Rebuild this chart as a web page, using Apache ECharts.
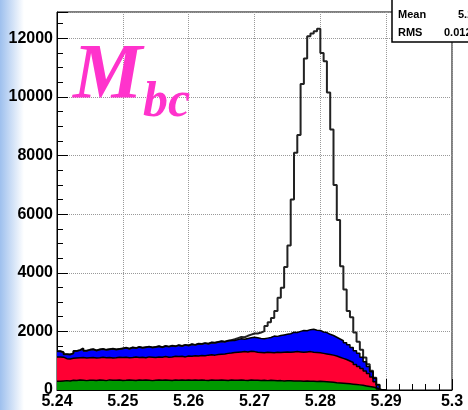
<!DOCTYPE html>
<html>
<head>
<meta charset="utf-8">
<script src="https://cdn.jsdelivr.net/npm/echarts@6/dist/echarts.min.js"></script>
<style>
  html, body { margin: 0; padding: 0; background: #fff; }
  #chart { width: 468px; height: 410px; }
</style>
</head>
<body>
<div id="chart"></div>
<script>
// histogram binning (Mbc in GeV)
const binStart = 5.24;
const binWidth = 0.0005;

// stacked MC components, one value per bin (bottom -> top)
const greenBkg = [
  300, 310, 320, 305, 330, 325, 340, 335, 320, 330,
  335, 325, 340, 330, 320, 345, 335, 330, 340, 325,
  330, 340, 335, 325, 345, 330, 340, 335, 320, 335,
  340, 330, 345, 335, 325, 340, 330, 345, 335, 340,
  330, 345, 335, 340, 330, 325, 340, 335, 330, 345,
  335, 325, 340, 330, 335, 345, 330, 325, 340, 335,
  330, 325, 335, 320, 330, 325, 315, 320, 310, 315,
  315, 310, 305, 310, 300, 305, 295, 300, 290, 295,
  290, 285, 275, 265, 250, 240, 230, 220, 210, 200,
  190, 175, 160, 140, 120, 100, 75, 30, 0, 0
];
const redBkg = [
  830, 810, 750, 755, 750, 765, 760, 775, 770, 770,
  775, 765, 760, 790, 780, 765, 755, 770, 780, 785,
  790, 760, 775, 805, 765, 790, 760, 795, 800, 775,
  790, 790, 795, 785, 805, 810, 810, 805, 795, 820,
  820, 825, 825, 840, 840, 865, 860, 855, 880, 875,
  895, 925, 920, 950, 955, 955, 980, 975, 980, 975,
  960, 955, 935, 970, 950, 945, 975, 960, 980, 985,
  975, 990, 1005, 990, 990, 995, 1015, 990, 990, 975,
  960, 945, 935, 925, 910, 880, 850, 820, 780, 740,
  680, 625, 570, 510, 440, 340, 205, 0, 0, 0
];
const blueBkg = [
  190, 170, 150, 150, 170, 240, 260, 310, 250, 270,
  280, 260, 280, 280, 270, 280, 320, 280, 280, 310,
  320, 310, 340, 300, 360, 320, 360, 350, 330, 360,
  360, 340, 360, 360, 380, 340, 390, 350, 410, 360,
  410, 370, 420, 390, 430, 390, 420, 420, 430, 440,
  420, 430, 440, 410, 430, 450, 420, 460, 460, 490,
  490, 480, 480, 480, 510, 570, 540, 580, 590, 600,
  630, 670, 650, 700, 740, 720, 750, 780, 760, 760,
  730, 730, 690, 670, 640, 620, 600, 570, 550, 510,
  470, 450, 390, 310, 240, 180, 120, 150, 0, 0
];
// signal on top of the stack (open histogram)
const signal = [
  0, 0, 0, 0, 0, 0, 0, 0, 0, 0,
  0, 0, 0, 0, 0, 0, 0, 0, 0, 0,
  0, 0, 0, 0, 0, 0, 0, 0, 0, 0,
  0, 0, 0, 0, 0, 0, 0, 0, 0, 0,
  0, 0, 0, 0, 0, 0, 0, 0, 0, 0,
  0, 0, 0, 40, 50, 60, 70, 90, 110, 130,
  150, 200, 260, 410, 520, 620, 870, 1290, 1610, 2300,
  3010, 4530, 6140, 6700, 8410, 9290, 10010, 10100, 10200, 10300,
  9520, 9260, 8250, 7030, 5200, 4060, 2540, 1820, 1160, 1030,
  620, 400, 250, 150, 80, 40, 20, 0, 0, 0
];

const yMax = 12900;
const statLabels = ["Mean", "RMS"];
const statValues = ["5.279", "0.01248"];

// cumulative tops for the stack
const greenTop = greenBkg.slice();
const redTop = greenTop.map((v, i) => v + redBkg[i]);
const blueTop = redTop.map((v, i) => v + blueBkg[i]);
const totalTop = blueTop.map((v, i) => v + signal[i]);

function toSteps(vals) {
  const pts = vals.map((v, i) => [+(binStart + i * binWidth).toFixed(4), v]);
  pts.push([+(binStart + vals.length * binWidth).toFixed(4), 0]);
  return pts;
}

function histSeries(name, vals, fill, lineColor, lineWidth) {
  const s = {
    name: name,
    type: "line",
    step: "end",
    data: toSteps(vals),
    symbol: "none",
    silent: true,
    animation: false,
    lineStyle: { color: lineColor, width: lineWidth },
  };
  if (fill) s.areaStyle = { color: fill, opacity: 1 };
  return s;
}

const font = "Liberation Sans";
const chart = echarts.init(document.getElementById("chart"));
chart.setOption({
  animation: false,
  textStyle: { fontFamily: font },
  grid: {
    left: 57, top: 12, width: 395, height: 378,
    show: true, borderColor: "#000", borderWidth: 1,
  },
  xAxis: {
    type: "value",
    min: 5.24,
    max: 5.3,
    interval: 0.01,
    axisLine: { show: true, onZero: false, lineStyle: { color: "#000", width: 1 } },
    axisTick: { show: true, inside: true, length: 11, lineStyle: { color: "#000" } },
    minorTick: { show: true, splitNumber: 5, length: 6, lineStyle: { color: "#000" } },
    splitLine: { show: true, lineStyle: { color: "#999", type: "dotted", width: 1 } },
    axisLabel: {
      color: "#000", fontSize: 16, fontWeight: "bold", fontFamily: font, margin: 4,
      formatter: (v) => String(Number(v.toFixed(2))),
    },
  },
  yAxis: {
    type: "value",
    min: 0,
    max: yMax,
    interval: 2000,
    axisLine: { show: true, lineStyle: { color: "#000", width: 1 } },
    axisTick: { show: true, inside: true, length: 11, lineStyle: { color: "#000" } },
    minorTick: { show: true, splitNumber: 4, length: 6, lineStyle: { color: "#000" } },
    splitLine: { show: true, lineStyle: { color: "#999", type: "dotted", width: 1 } },
    axisLabel: {
      color: "#000", fontSize: 16, fontWeight: "bold", fontFamily: font, margin: 4,
      showMaxLabel: false,
      formatter: (v) => String(Math.round(v)),
    },
  },
  series: [
    histSeries("total", totalTop, null, "#222", 2),
    histSeries("blue", blueTop, "#0000ff", "#000", 1.5),
    histSeries("red", redTop, "#ff0033", "#000", 1.5),
    histSeries("green", greenTop, "#009900", "#000", 1.5),
  ],
  graphic: [
    // slide background strip on the left
    {
      type: "rect", z: -10, silent: true,
      shape: { x: 0, y: 0, width: 24, height: 410 },
      style: {
        fill: new echarts.graphic.LinearGradient(0, 0, 1, 0, [
          { offset: 0, color: "#9ec0ee" },
          { offset: 1, color: "#ffffff" },
        ]),
      },
    },
    {
      type: "text", z: 100, left: 73, top: 38, silent: true,
      style: { text: "M", fill: "#ff33cc", font: "italic bold 78px 'Liberation Serif'" },
    },
    {
      type: "text", z: 100, left: 143, top: 78, silent: true,
      style: { text: "bc", fill: "#ff33cc", font: "italic bold 50px 'Liberation Serif'" },
    },
    // stat box
    {
      type: "rect", z: 100, silent: true,
      shape: { x: 392, y: -3, width: 90, height: 45 },
      style: { fill: "#fff", stroke: "#000", lineWidth: 1.5 },
    },
    {
      type: "text", z: 101, left: 398, top: 9, silent: true,
      style: { text: statLabels[0], fill: "#000", font: "bold 11px 'Liberation Sans'" },
    },
    {
      type: "text", z: 101, left: 458, top: 9, silent: true,
      style: { text: statValues[0], fill: "#000", font: "bold 11px 'Liberation Sans'" },
    },
    {
      type: "text", z: 101, left: 398, top: 27, silent: true,
      style: { text: statLabels[1], fill: "#000", font: "bold 11px 'Liberation Sans'" },
    },
    {
      type: "text", z: 101, left: 444, top: 27, silent: true,
      style: { text: statValues[1], fill: "#000", font: "bold 11px 'Liberation Sans'" },
    },
  ],
});
</script>
</body>
</html>
